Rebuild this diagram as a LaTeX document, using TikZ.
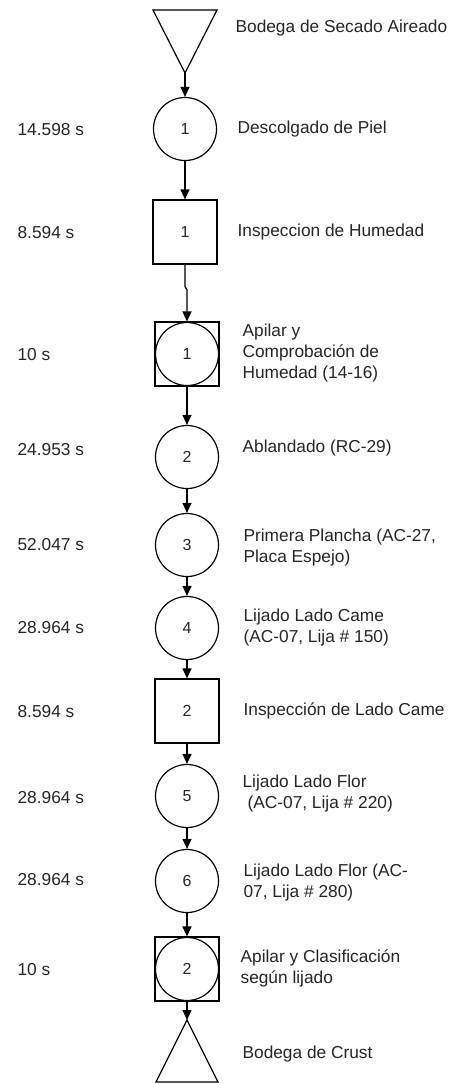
\documentclass[tikz,border=0pt]{standalone}
\usepackage{fontspec}
\setmainfont{Liberation Sans}
\usetikzlibrary{arrows.meta}
\begin{document}
\begin{tikzpicture}[x=1pt,y=-1pt,
  line width=1.2pt,
  every node/.style={text=black!85},
  opcirc/.style={draw, circle, minimum size=63pt, inner sep=0pt, font=\fontsize{16}{19}\selectfont},
  insp/.style={draw, rectangle, minimum size=64pt, inner sep=0pt, font=\fontsize{16}{19}\selectfont},
  flow/.style={-{Triangle[length=10pt,width=9pt]}},
  timelbl/.style={anchor=base west, inner sep=0pt, font=\fontsize{17.3}{21}\selectfont},
  desc/.style={anchor=base west, inner sep=0pt, font=\fontsize{17.3}{21}\selectfont},
  descm/.style={anchor=west, inner sep=0pt, align=left, font=\fontsize{17.3}{21}\selectfont}]
\useasboundingbox (0,0) rectangle (457,1084);

% storage at the start (inverted triangle)
\draw (153,10) -- (217,10) -- (185,73) -- cycle;
\coordinate (t1) at (185,73);

% process column
\node[opcirc] (c1) at (185,129) {1};
\node[insp]   (s1) at (185,232) {1};
\node[insp]   (a1) at (187,354) {};
\node[opcirc] (a1c) at (187,354) {1};
\node[opcirc] (c2) at (187,457) {2};
\node[opcirc] (c3) at (187,545) {3};
\node[opcirc] (c4) at (187,628) {4};
\node[insp]   (s2) at (187,711) {2};
\node[opcirc] (c5) at (187,796) {5};
\node[opcirc] (c6) at (187,881) {6};
\node[insp]   (a2) at (187,969) {};
\node[opcirc] (a2c) at (187,969) {2};

% storage at the end (triangle)
\coordinate (t2) at (187,1020);
\draw (t2) -- (218,1082) -- (156,1082) -- cycle;

% connectors
\draw[flow] (t1) -- (c1.north);
\draw[flow] (c1) -- (s1);
\draw[flow] (s1.south) -- ++(0,22) -- ++(2,3) -- (a1.north);
\draw[flow] (a1) -- (c2);
\draw[flow] (c2) -- (c3);
\draw[flow] (c3) -- (c4);
\draw[flow] (c4) -- (s2);
\draw[flow] (s2) -- (c5);
\draw[flow] (c5) -- (c6);
\draw[flow] (c6) -- (a2);
\draw[flow] (a2.south) -- (t2);

% times
\node[timelbl] (tm1) at (17,135) {14.598 s};
\node[timelbl] (tm2) at (17,238) {8.594 s};
\node[timelbl] (tm3) at (17,360) {10 s};
\node[timelbl] (tm4) at (17,455) {24.953 s};
\node[timelbl] (tm5) at (17,550) {52.047 s};
\node[timelbl] (tm6) at (17,633) {28.964 s};
\node[timelbl] (tm7) at (17,717) {8.594 s};
\node[timelbl] (tm8) at (17,803) {28.964 s};
\node[timelbl] (tm9) at (17,885) {28.964 s};
\node[timelbl] (tm10) at (17,975) {10 s};

% descriptions
\node[desc] (d0) at (235,32) {Bodega de Secado Aireado};
\node[desc] (d1) at (237,133) {Descolgado de Piel};
\node[desc] (d2) at (237,236) {Inspeccion de Humedad};
\node[descm] (d3) at (242,353) {Apilar y\\Comprobación de\\Humedad (14-16)};
\node[desc] (d4) at (242,452) {Ablandado (RC-29)};
\node[descm] (d5) at (243,548) {Primera Plancha (AC-27,\\Placa Espejo)};
\node[descm] (d6) at (243,628) {Lijado Lado Came\\(AC-07, Lija \# 150)};
\node[desc] (d7) at (243,715) {Inspección de Lado Came};
\node[descm] (d8) at (242,794) {Lijado Lado Flor\\\hspace{5pt}(AC-07, Lija \# 220)};
\node[descm] (d9) at (243,883) {Lijado Lado Flor (AC-\\07, Lija \# 280)};
\node[descm] (d10) at (240,968) {Apilar y Clasificación\\según lijado};
\node[desc] (d11) at (242,1058) {Bodega de Crust};
\end{tikzpicture}
\end{document}
